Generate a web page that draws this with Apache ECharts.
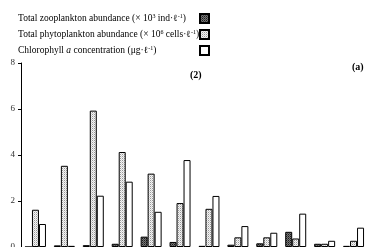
<!DOCTYPE html>
<html>
<head>
<meta charset="utf-8">
<script src="https://cdn.jsdelivr.net/npm/echarts@6/dist/echarts.min.js"></script>
<style>
  html, body { margin: 0; padding: 0; background: #fff; }
  #chart { width: 382px; height: 247px; }
</style>
</head>
<body>
<div id="chart"></div>
<script>
const categories = ['1', '2', '3', '4', '5', '6', '7', '8', '9', '10', '11', '12']
const zooValues = [0, 0.07, 0.08, 0.14, 0.45, 0.22, 0.05, 0.1, 0.16, 0.66, 0.14, 0.05]
const phytoValues = [1.62, 3.53, 5.93, 4.13, 3.19, 1.91, 1.66, 0.42, 0.42, 0.37, 0.14, 0.27]
const chlValues = [1.0, 0.05, 2.23, 2.84, 1.53, 3.78, 2.22, 0.91, 0.62, 1.45, 0.27, 0.84]
const yTicks = [0, 2, 4, 6, 8]

const serif = 'Liberation Serif'

// series names written as rich text (superscripts, italic a)
const zooName = '{n|Total zooplankton abundance (× 10}{sup|3}{n| ind·ℓ}{sup|-1}{n|)}'
const phytoName = '{n|Total phytoplankton abundance (× 10}{sup|6}{n| cells·ℓ}{sup|-1}{n|)}'
const chlName = '{n|Chlorophyll }{it|a}{n| concentration (μg·ℓ}{sup|-1}{n|)}'

// fill patterns like the printed figure
function makePattern (size, bg, dots) {
  const c = document.createElement('canvas')
  c.width = size
  c.height = size
  const ctx = c.getContext('2d')
  ctx.fillStyle = bg
  ctx.fillRect(0, 0, size, size)
  dots.forEach(d => {
    ctx.fillStyle = d[2]
    ctx.fillRect(d[0], d[1], 1, 1)
  })
  return { image: c, repeat: 'repeat' }
}

const zooFill = makePattern(2, '#777', [[0, 0, '#1a1a1a'], [1, 1, '#444']])
const phytoFill = makePattern(2, '#f4f4f4', [[0, 0, '#999'], [1, 1, '#d0d0d0']])

const barBase = {
  type: 'bar',
  barWidth: 7,
  barGap: '0%',
  barCategoryGap: '27%'
}

const chart = echarts.init(document.getElementById('chart'))
chart.setOption({
  animation: false,
  grid: {
    left: 21,
    right: 14,
    top: 63,
    bottom: 0,
    outerBoundsMode: 'none'
  },
  legend: {
    orient: 'vertical',
    left: 13,
    top: 8,
    align: 'right',
    itemGap: 5,
    itemWidth: 9,
    itemHeight: 9,
    icon: 'rect',
    textStyle: {
      fontFamily: serif,
      fontSize: 9.5,
      color: '#000',
      width: 177,
      rich: {
        n: { fontFamily: serif, fontSize: 9.5, align: 'left', color: '#000' },
        sup: { fontFamily: serif, fontSize: 6, align: 'left', verticalAlign: 'top', padding: [0, 0, 4, 0], color: '#000' },
        it: { fontFamily: serif, fontSize: 9.5, fontStyle: 'italic', align: 'left', color: '#000' }
      }
    },
    data: [zooName, phytoName, chlName]
  },
  graphic: [
    {
      type: 'text',
      left: 190,
      top: 70,
      style: { text: '(2)', fontFamily: serif, fontWeight: 'bold', fontSize: 10, fill: '#000' }
    },
    {
      type: 'text',
      left: 352,
      top: 62,
      style: { text: '(a)', fontFamily: serif, fontWeight: 'bold', fontSize: 10, fill: '#000' }
    }
  ],
  xAxis: {
    type: 'category',
    data: categories,
    axisLine: { show: true, lineStyle: { color: '#000', width: 1 } },
    axisTick: { show: false },
    axisLabel: { show: false }
  },
  yAxis: {
    type: 'value',
    min: yTicks[0],
    max: yTicks[yTicks.length - 1],
    interval: 2,
    splitLine: { show: false },
    axisLine: { show: true, lineStyle: { color: '#000', width: 1 } },
    axisTick: { show: true, length: 3, lineStyle: { color: '#000' } },
    axisLabel: {
      margin: 6,
      fontFamily: serif,
      fontSize: 9,
      color: '#333'
    }
  },
  series: [
    Object.assign({}, barBase, {
      name: zooName,
      itemStyle: { color: zooFill, borderColor: '#000', borderWidth: 1 },
      data: zooValues
    }),
    Object.assign({}, barBase, {
      name: phytoName,
      itemStyle: { color: phytoFill, borderColor: '#000', borderWidth: 1 },
      data: phytoValues
    }),
    Object.assign({}, barBase, {
      name: chlName,
      itemStyle: { color: '#fff', borderColor: '#000', borderWidth: 1 },
      data: chlValues
    })
  ]
})
</script>
</body>
</html>
